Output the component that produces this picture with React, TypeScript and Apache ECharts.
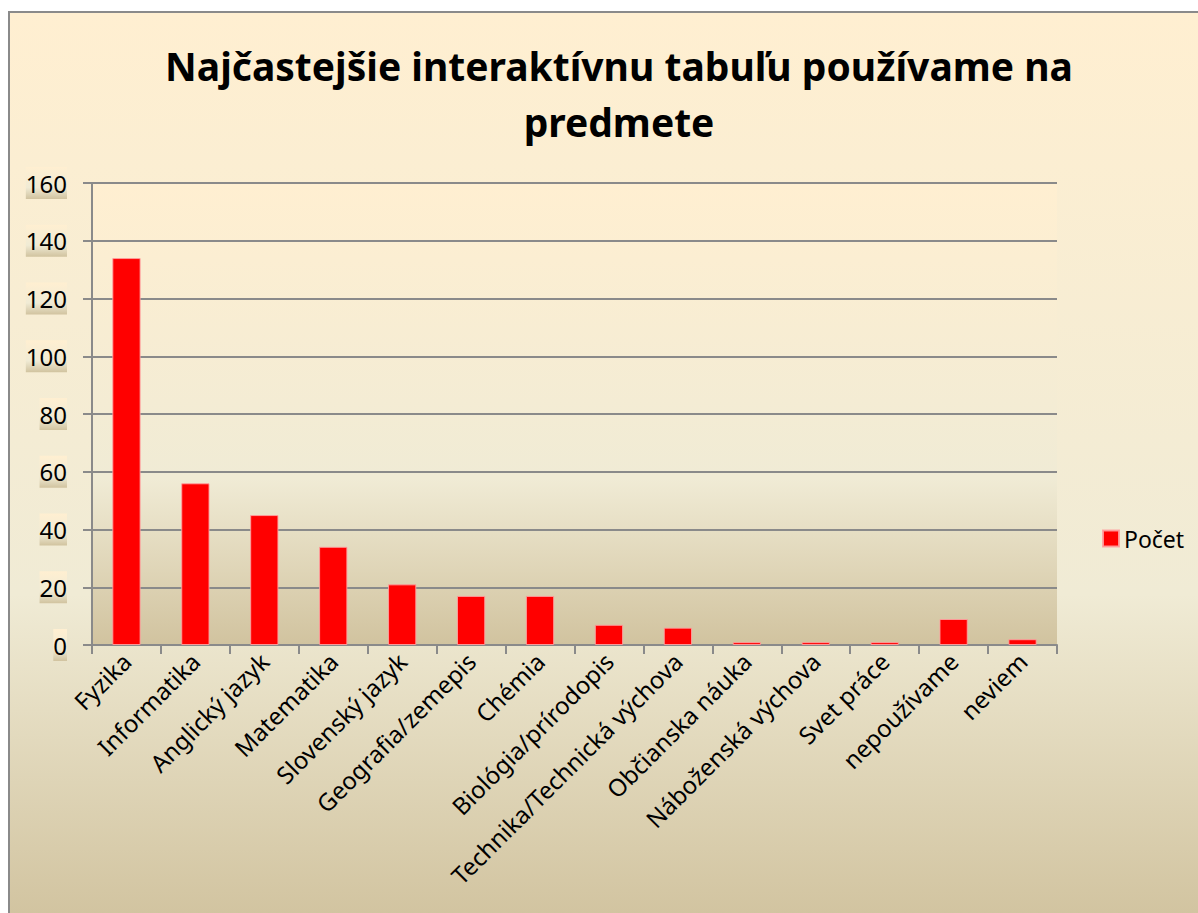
import React, { useEffect, useRef } from "react";
import * as echarts from "echarts";

const categories = [
  "Fyzika",
  "Informatika",
  "Anglický jazyk",
  "Matematika",
  "Slovenský jazyk",
  "Geografia/zemepis",
  "Chémia",
  "Biológia/prírodopis",
  "Technika/Technická výchova",
  "Občianska náuka",
  "Náboženská výchova",
  "Svet práce",
  "nepoužívame",
  "neviem",
];
const pocet = [134, 56, 45, 34, 21, 17, 17, 7, 6, 1, 1, 1, 9, 2];
const seriesName = "Počet";
const titleText = "Najčastejšie interaktívnu tabuľu používame na\npredmete";

const parchment = (x2: number, y2: number) =>
  new echarts.graphic.LinearGradient(0, 0, x2, y2, [
    { offset: 0, color: "#FFEFD1" },
    { offset: 0.64, color: "#F0EBD5" },
    { offset: 1, color: "#D1C39F" },
  ]);

export default function App() {
  const ref = useRef<HTMLDivElement>(null);
  useEffect(() => {
    if (!ref.current) return;
    const chart = echarts.init(ref.current, undefined, { renderer: "svg" });
    const font = "'Noto Sans', sans-serif";
    chart.setOption({
      animation: false,
      graphic: [
        {
          type: "rect",
          z: -10,
          silent: true,
          shape: { x: 9, y: 12, width: 1200, height: 910 },
          style: { fill: parchment(0, 1), stroke: "#8a8a8a", lineWidth: 2 },
        },
        {
          type: "rect",
          z: -9,
          silent: true,
          shape: { x: 92, y: 183, width: 965, height: 462 },
          style: { fill: parchment(0, 1) },
        },
      ],
      title: {
        text: titleText,
        left: 614,
        top: 32,
        textAlign: "center",
        textStyle: {
          fontFamily: font,
          fontSize: 39,
          fontWeight: "bold",
          color: "#000",
          lineHeight: 56,
        },
      },
      legend: {
        orient: "vertical",
        left: 1097,
        top: 522,
        itemWidth: 16,
        itemHeight: 16,
        itemGap: 6,
        icon: "rect",
        textStyle: { fontFamily: font, fontSize: 23, color: "#000" },
        data: [seriesName],
      },
      grid: { left: 92, right: 141, top: 183, bottom: 268, containLabel: false },
      xAxis: {
        type: "category",
        data: categories,
        boundaryGap: true,
        axisLine: { lineStyle: { color: "#8a8a8a", width: 2 } },
        axisTick: {
          show: true,
          alignWithLabel: false,
          length: 9,
          lineStyle: { color: "#8a8a8a", width: 2 },
        },
        axisLabel: {
          interval: 0,
          rotate: 45,
          margin: 12,
          fontFamily: font,
          fontSize: 24,
          color: "#000",
        },
      },
      yAxis: {
        type: "value",
        min: 0,
        max: 160,
        interval: 20,
        axisLine: { show: true, lineStyle: { color: "#8a8a8a", width: 2 } },
        axisTick: { show: true, length: 9, lineStyle: { color: "#8a8a8a", width: 2 } },
        splitLine: { show: true, lineStyle: { color: "#8a8a8a", width: 2 } },
        axisLabel: {
          margin: 25,
          fontFamily: font,
          fontSize: 24,
          color: "#000",
          backgroundColor: parchment(0, 1),
          padding: [4, 0, 4, 0],
        },
      },
      series: [
        {
          name: seriesName,
          type: "bar",
          data: pocet,
          barCategoryGap: "59%",
          itemStyle: {
            color: "#FF0000",
            borderColor: "rgba(255,160,160,0.9)",
            borderWidth: 1,
          },
        },
      ],
    });
    return () => chart.dispose();
  }, []);
  return (
    <div
      ref={ref}
      style={{ position: "fixed", left: 0, top: 0, width: 1198, height: 913, background: "#fff" }}
    />
  );
}
